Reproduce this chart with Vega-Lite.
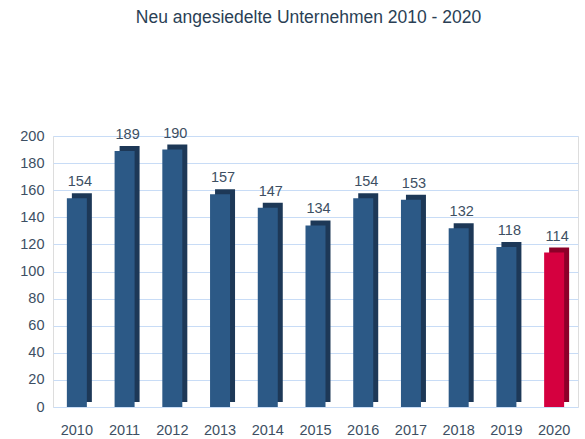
{
  "$schema": "https://vega.github.io/schema/vega-lite/v6.json",
  "autosize": "none",
  "width": 525,
  "height": 271,
  "padding": {"left": 53, "top": 136, "right": 7, "bottom": 32},
  "background": "white",
  "title": {
    "text": "Neu angesiedelte Unternehmen 2010 - 2020",
    "fontSize": 17.5,
    "fontWeight": "normal",
    "font": "Liberation Sans",
    "color": "#2a3f55",
    "anchor": "middle",
    "dx": -7,
    "offset": 99
  },
  "data": {
    "values": [
      {"year": "2010", "count": 154, "hl": "n"},
      {"year": "2011", "count": 189, "hl": "n"},
      {"year": "2012", "count": 190, "hl": "n"},
      {"year": "2013", "count": 157, "hl": "n"},
      {"year": "2014", "count": 147, "hl": "n"},
      {"year": "2015", "count": 134, "hl": "n"},
      {"year": "2016", "count": 154, "hl": "n"},
      {"year": "2017", "count": 153, "hl": "n"},
      {"year": "2018", "count": 132, "hl": "n"},
      {"year": "2019", "count": 118, "hl": "n"},
      {"year": "2020", "count": 114, "hl": "y"}
    ]
  },
  "encoding": {
    "x": {
      "field": "year", "type": "nominal", "sort": null,
      "scale": {"paddingInner": 0, "paddingOuter": 0},
      "axis": {
        "title": null, "labelAngle": 0, "domain": false, "ticks": false,
        "labelFont": "Liberation Sans", "labelFontSize": 14.5, "labelColor": "#3d4f63",
        "labelPadding": 16
      }
    },
    "y": {
      "field": "count", "type": "quantitative",
      "scale": {"domain": [0, 200]},
      "axis": {
        "title": null, "values": [0,20,40,60,80,100,120,140,160,180,200],
        "domain": false, "ticks": false, "grid": true, "gridColor": "#c8dcf6", "gridWidth": 1,
        "labelFont": "Liberation Sans", "labelFontSize": 14.5, "labelColor": "#3d4f63",
        "labelPadding": 9
      }
    }
  },
  "layer": [
    {
      "mark": {"type": "bar", "size": 20, "xOffset": 5, "yOffset": -5},
      "encoding": {
        "color": {
          "field": "hl", "type": "nominal", "legend": null,
          "scale": {"domain": ["n", "y"], "range": ["#1d3857", "#8c0029"]}
        }
      }
    },
    {
      "mark": {"type": "bar", "size": 20},
      "encoding": {
        "color": {
          "field": "hl", "type": "nominal", "legend": null,
          "scale": {"domain": ["n", "y"], "range": ["#2c5986", "#d5003f"]}
        }
      }
    },
    {
      "mark": {"type": "text", "baseline": "bottom", "dy": -9, "dx": 3, "font": "Liberation Sans", "fontSize": 14.5, "color": "#3d4f63"},
      "encoding": {"text": {"field": "count", "type": "quantitative"}}
    }
  ],
  "resolve": {"scale": {"color": "independent"}}
}
